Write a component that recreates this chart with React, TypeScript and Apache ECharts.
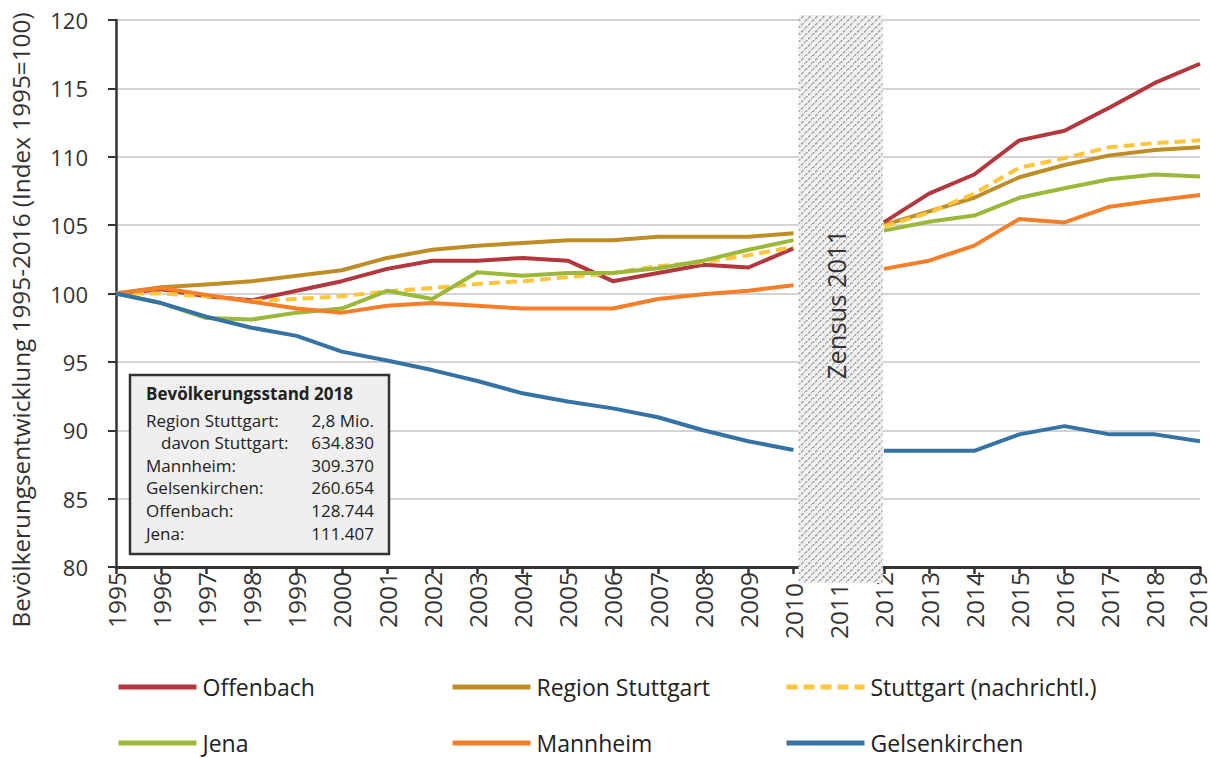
import React, { useEffect, useRef } from "react";
import * as echarts from "echarts";

const years = [
  "1995", "1996", "1997", "1998", "1999", "2000", "2001", "2002", "2003", "2004",
  "2005", "2006", "2007", "2008", "2009", "2010", "2011", "2012", "2013", "2014",
  "2015", "2016", "2017", "2018", "2019",
];

const offenbach = [100, 100.3, 99.8, 99.5, 100.2, 100.9, 101.8, 102.4, 102.4, 102.6, 102.4, 100.9, 101.5, 102.1, 101.9, 103.3, null, 105.2, 107.3, 108.7, 111.2, 111.9, 113.6, 115.4, 116.8];
const regionStuttgart = [100, 100.45, 100.65, 100.9, 101.3, 101.7, 102.6, 103.2, 103.5, 103.7, 103.9, 103.9, 104.15, 104.15, 104.15, 104.4, null, 105.0, 106.0, 107.0, 108.5, 109.4, 110.1, 110.5, 110.7];
const stuttgart = [100, 100.0, 99.8, 99.45, 99.6, 99.8, 100.15, 100.4, 100.7, 100.9, 101.2, 101.5, 102.0, 102.3, 102.8, 103.4, null, 104.9, 105.9, 107.3, 109.2, 109.9, 110.7, 111.0, 111.2];
const jena = [100, 99.3, 98.2, 98.1, 98.6, 98.9, 100.2, 99.6, 101.55, 101.3, 101.5, 101.5, 101.85, 102.4, 103.2, 103.9, null, 104.6, 105.25, 105.7, 107.0, 107.7, 108.35, 108.7, 108.55];
const mannheim = [100, 100.4, 99.9, 99.4, 98.9, 98.6, 99.1, 99.3, 99.1, 98.9, 98.9, 98.9, 99.6, 99.95, 100.2, 100.6, null, 101.8, 102.4, 103.5, 105.45, 105.2, 106.35, 106.8, 107.2];
const gelsenkirchen = [100, 99.3, 98.3, 97.5, 96.9, 95.75, 95.1, 94.4, 93.6, 92.7, 92.1, 91.6, 90.95, 90.0, 89.2, 88.55, null, 88.5, 88.5, 88.5, 89.7, 90.3, 89.7, 89.7, 89.2];

const seriesNames = ["Offenbach", "Region Stuttgart", "Stuttgart (nachrichtl.)", "Jena", "Mannheim", "Gelsenkirchen"];
const seriesData = [offenbach, regionStuttgart, stuttgart, jena, mannheim, gelsenkirchen];
const seriesColors = ["#B3373F", "#BF8D26", "#FFC53D", "#9BB83A", "#F47F28", "#3673A5"];

const yAxisTitle = "Bevölkerungsentwicklung 1995-2016 (Index 1995=100)";
const zensusLabel = "Zensus 2011";
const zensusFrom = "2010";
const zensusTo = "2012";
const shiftedYears = ["2010", "2011"];
const lastYear = "2019";

const boxTitle = "Bevölkerungsstand 2018";
const boxLabels = ["Region Stuttgart:", "davon Stuttgart:", "Mannheim:", "Gelsenkirchen:", "Offenbach:", "Jena:"];
const boxValues = ["2,8 Mio.", "634.830", "309.370", "260.654", "128.744", "111.407"];

const FONT = "'Open Sans', 'Noto Sans', sans-serif";

function makePattern() {
  const n = 7;
  const c = document.createElement("canvas");
  c.width = n;
  c.height = n;
  const ctx = c.getContext("2d");
  if (ctx) {
    ctx.fillStyle = "#f0f0f0";
    ctx.fillRect(0, 0, n, n);
    ctx.fillStyle = "#999999";
    for (let i = 0; i < n; i++) {
      if (i % 3 !== 2) ctx.fillRect(i, n - 1 - i, 1.4, 1.4);
    }
  }
  return c;
}

export default function App() {
  const ref = useRef<HTMLDivElement>(null);

  useEffect(() => {
    if (!ref.current) return;
    const chart = echarts.init(ref.current, undefined, { renderer: "svg" });

    const series = seriesNames.map((name, i) => ({
      name,
      type: "line",
      data: seriesData[i],
      symbol: "none",
      showSymbol: false,
      connectNulls: false,
      z: 2 + i,
      lineStyle: {
        color: seriesColors[i],
        width: 4,
        type: i === 2 ? [11, 6] : "solid",
        join: "round",
      },
      itemStyle: { color: seriesColors[i] },
    }));

    const legendLeft = [116, 450, 784];
    const legendTop = [675, 731];
    const legend = seriesNames.map((name, i) => ({
      data: [name],
      left: legendLeft[i % 3],
      top: legendTop[Math.floor(i / 3)],
      padding: 0,
      itemWidth: 78,
      itemHeight: 24,
      itemGap: 0,
      selectedMode: false,
      lineStyle: { width: 5 },
      itemStyle: { opacity: 0, borderWidth: 0 },
      textStyle: { fontSize: 23, color: "#222", fontFamily: FONT, lineHeight: 24, padding: [0, 0, 0, 1] },
    }));

    chart.setOption({
      animation: false,
      textStyle: { fontFamily: FONT },
      grid: { left: 116, right: 11, top: 20, bottom: 191, containLabel: false, outerBoundsMode: "none" },
      xAxis: {
        type: "category",
        data: years,
        boundaryGap: false,
        axisLine: { show: true, lineStyle: { color: "#333", width: 3 } },
        axisTick: { show: true, length: 7, alignWithLabel: true, lineStyle: { color: "#333", width: 2.5 } },
        axisLabel: {
          interval: 0,
          rotate: 90,
          margin: 5,
          fontSize: 24.5,
          lineHeight: 19,
          color: "#333",
          fontFamily: FONT,
          formatter: (v: string) =>
            shiftedYears.indexOf(v) >= 0 ? `{s|${v}}` : v === lastYear ? `{e|${v}}` : v,
          rich: {
            s: { fontSize: 24.5, lineHeight: 19, color: "#333", fontFamily: FONT, padding: [0, 11, 0, 0] },
            e: { fontSize: 24.5, lineHeight: 19, color: "#333", fontFamily: FONT, padding: [0, 0, 6, 0] },
          },
        },
        splitLine: { show: false },
      },
      yAxis: {
        type: "value",
        min: 80,
        max: 120,
        interval: 5,
        axisLine: { show: true, lineStyle: { color: "#333", width: 2.5 } },
        axisTick: { show: true, length: 8, lineStyle: { color: "#333", width: 2 } },
        axisLabel: { margin: 28, fontSize: 22, color: "#333", fontFamily: FONT },
        splitLine: { show: true, lineStyle: { color: "#d3d3d3", width: 2 } },
      },
      legend,
      series,
    });

    const x0 = chart.convertToPixel({ xAxisIndex: 0 }, years.indexOf(zensusFrom)) as number;
    const x1 = chart.convertToPixel({ xAxisIndex: 0 }, years.indexOf(zensusTo)) as number;
    const yTop = chart.convertToPixel({ yAxisIndex: 0 }, 120) as number;
    const yBot = chart.convertToPixel({ yAxisIndex: 0 }, 80) as number;
    const yText = chart.convertToPixel({ yAxisIndex: 0 }, 99.2) as number;

    const boxX = 130;
    const boxY = 375;
    const graphic: any[] = [
      {
        type: "rect",
        z: 100,
        shape: { x: x0 + 5, y: yTop - 5, width: x1 - x0 - 6, height: yBot - yTop + 21 },
        style: { fill: { image: makePattern(), repeat: "repeat" } as any },
      },
      {
        type: "text",
        z: 101,
        x: (x0 + x1) / 2 - 3,
        y: yText,
        rotation: Math.PI / 2,
        style: { text: zensusLabel, fontSize: 25.5, fill: "#333", fontFamily: FONT, textAlign: "center", textVerticalAlign: "middle" },
      },
      {
        type: "text",
        z: 101,
        x: 20,
        y: 320,
        rotation: Math.PI / 2,
        style: { text: yAxisTitle, fontSize: 24.3, fill: "#333", fontFamily: FONT, textAlign: "center", textVerticalAlign: "middle" },
      },
      {
        type: "rect",
        z: 100,
        shape: { x: boxX, y: boxY, width: 259, height: 179 },
        style: { fill: "#efefef", stroke: "#333", lineWidth: 2.5 },
      },
      {
        type: "text",
        z: 101,
        x: 146,
        y: 393,
        style: { text: boxTitle, fontSize: 17, fontWeight: "bold", fill: "#222", fontFamily: FONT, textVerticalAlign: "middle" },
      },
    ];
    boxLabels.forEach((lab, i) => {
      const y = 420 + i * 22.6;
      graphic.push({
        type: "text",
        z: 101,
        x: i === 1 ? 161 : 146,
        y,
        style: { text: lab, fontSize: 17, fill: "#222", fontFamily: FONT, textVerticalAlign: "middle" },
      });
      graphic.push({
        type: "text",
        z: 101,
        x: 374,
        y,
        style: { text: boxValues[i], fontSize: 17, fill: "#222", fontFamily: FONT, textAlign: "right", textVerticalAlign: "middle" },
      });
    });

    chart.setOption({ graphic });

    return () => chart.dispose();
  }, []);

  return (
    <div
      ref={ref}
      style={{ position: "fixed", left: 0, top: 0, width: 1211, height: 758, background: "#fff" }}
    />
  );
}
